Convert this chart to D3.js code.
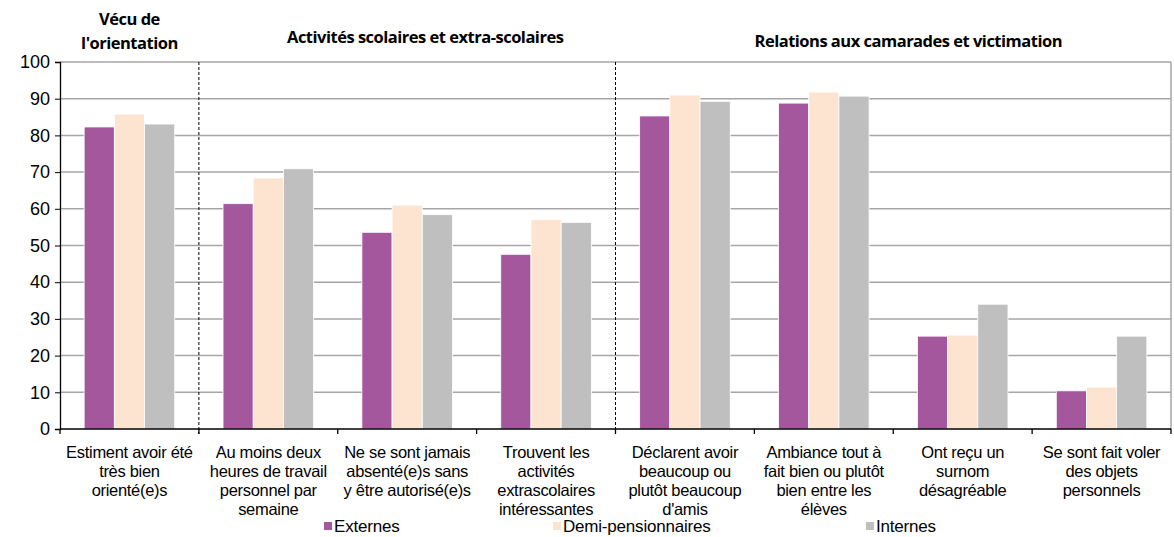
<!DOCTYPE html>
<html>
<head>
<meta charset="utf-8">
<title>Externes, demi-pensionnaires, internes</title>
<style>
  body { margin: 0; background: #fff; }
  svg { display: block; }
</style>
</head>
<body>
<svg width="1174" height="537"></svg>
<script src="https://d3js.org/d3.v7.min.js"></script>
<script>

    var categories = [
        ["Estiment avoir été", "très bien", "orienté(e)s"],
        ["Au moins deux", "heures de travail", "personnel par", "semaine"],
        ["Ne se sont jamais", "absenté(e)s sans", "y être autorisé(e)s"],
        ["Trouvent les", "activités", "extrascolaires", "intéressantes"],
        ["Déclarent avoir", "beaucoup ou", "plutôt beaucoup", "d'amis"],
        ["Ambiance tout à", "fait bien ou plutôt", "bien entre les", "élèves"],
        ["Ont reçu un", "surnom", "désagréable"],
        ["Se sont fait voler", "des objets", "personnels"]
    ];
    var seriesNames = ["Externes", "Demi-pensionnaires", "Internes"];
    var externes = [82.3, 61.4, 53.6, 47.6, 85.3, 88.8, 25.3, 10.4];
    var demiPensionnaires = [85.8, 68.4, 61.0, 57.1, 91.0, 91.8, 25.6, 11.4];
    var internes = [83.1, 70.9, 58.4, 56.3, 89.3, 90.7, 34.0, 25.3];
    var yTicks = [0, 10, 20, 30, 40, 50, 60, 70, 80, 90, 100];
    // themed groups: label lines, first and last category index
    var groups = [
        { lines: ["Vécu de", "l'orientation"], from: 0, to: 0 },
        { lines: ["Activités scolaires et extra-scolaires"], from: 1, to: 3 },
        { lines: ["Relations aux camarades et victimation"], from: 4, to: 7 }
    ];

    var colors = ["#a5579e", "#fde4d0", "#bfbfbf"];
    // header placement tweaks (x shift, baseline above plot)
    var hdrShift = [0, 18, 15];
    var hdrY = [-37, -19, -15];

    var svg = d3.select("svg"),
        margin = { top: 62, right: 3, bottom: 108, left: 60 },
        width = svg.attr("width") - margin.left - margin.right,
        height = svg.attr("height") - margin.top - margin.bottom;

    var values = [externes, demiPensionnaires, internes];
    var data = categories.map(function (c, i) {
        return { idx: i, lines: c, vals: values.map(function (v) { return v[i]; }) };
    });

    var x0 = d3.scaleBand().domain(d3.range(categories.length)).range([0, width]).padding(0);
    var x1 = d3.scaleBand().domain(d3.range(seriesNames.length)).range([0, x0.bandwidth()])
        .paddingInner(0).paddingOuter(0.8);
    var y = d3.scaleLinear().domain([0, 100]).range([height, 0]);

    var g = svg.append("g")
        .attr("transform", "translate(" + margin.left + "," + margin.top + ")");

    // grid
    g.append("g").selectAll("line")
        .data(yTicks.filter(function (t) { return t > 0; }))
        .enter().append("line")
        .attr("x1", 0).attr("x2", width)
        .attr("y1", function (d) { return y(d); })
        .attr("y2", function (d) { return y(d); })
        .style("stroke", "#a6a6a6")
        .style("stroke-width", 1.5);

    g.append("line")
        .attr("x1", width).attr("x2", width)
        .attr("y1", 0).attr("y2", height)
        .style("stroke", "#a6a6a6")
        .style("stroke-width", 1.5);

    // bars
    var cat = g.selectAll(".cat")
        .data(data)
        .enter().append("g")
        .attr("class", "cat")
        .attr("transform", function (d) { return "translate(" + x0(d.idx) + ",0)"; });

    cat.selectAll("rect")
        .data(function (d) { return d.vals; })
        .enter().append("rect")
        .attr("x", function (d, i) { return x1(i); })
        .attr("width", x1.bandwidth())
        .attr("y", function (d) { return y(d); })
        .attr("height", function (d) { return height - y(d); })
        .style("fill", function (d, i) { return colors[i]; })
        .style("stroke", "#fff")
        .style("stroke-width", 0.8);

    // y axis
    var yAxis = g.append("g")
        .call(d3.axisLeft(y).tickValues(yTicks).tickSize(5).tickPadding(5));
    yAxis.select(".domain").style("stroke", "#000").style("stroke-width", 1.3);
    yAxis.selectAll(".tick line").style("stroke", "#000");
    yAxis.selectAll("text")
        .style("font", "18px 'Liberation Sans', Arial, sans-serif")
        .style("fill", "#000");

    // x axis
    var boundaries = d3.range(categories.length + 1).map(function (i) {
        return i < categories.length ? x0(i) : width;
    });
    g.append("line")
        .attr("x1", 0).attr("x2", width)
        .attr("y1", height).attr("y2", height)
        .style("stroke", "#000").style("stroke-width", 1.3);
    g.append("g").selectAll("line")
        .data(boundaries)
        .enter().append("line")
        .attr("x1", function (d) { return d; }).attr("x2", function (d) { return d; })
        .attr("y1", height).attr("y2", height + 5)
        .style("stroke", "#000").style("stroke-width", 1.3);

    // dashed separators between themes
    g.append("g").selectAll("line")
        .data(groups.slice(1))
        .enter().append("line")
        .attr("x1", function (d) { return x0(d.from); })
        .attr("x2", function (d) { return x0(d.from); })
        .attr("y1", 0).attr("y2", height + 5)
        .style("stroke", "#000")
        .style("stroke-width", 1)
        .style("stroke-dasharray", "3,2");

    // category labels
    var lbl = g.selectAll(".lbl")
        .data(data)
        .enter().append("text")
        .attr("class", "lbl")
        .attr("x", function (d) { return x0(d.idx) + x0.bandwidth() / 2; })
        .attr("y", height + 29)
        .style("font", "16.5px 'Liberation Sans', Arial, sans-serif")
        .style("letter-spacing", "-0.3px")
        .style("text-anchor", "middle")
        .style("fill", "#000");
    lbl.selectAll("tspan")
        .data(function (d) { return d.lines.map(function (l) { return { l: l, x: x0(d.idx) + x0.bandwidth() / 2 }; }); })
        .enter().append("tspan")
        .attr("x", function (d) { return d.x; })
        .attr("dy", function (d, i) { return i === 0 ? 0 : 19; })
        .text(function (d) { return d.l; });

    // theme headers
    var hdr = g.selectAll(".hdr")
        .data(groups)
        .enter().append("text")
        .attr("class", "hdr")
        .style("font", "bold 16.5px 'Open Sans', sans-serif")
        .style("letter-spacing", "-0.5px")
        .style("text-anchor", "middle")
        .style("fill", "#000")
        .attr("y", function (d, i) { return hdrY[i]; });
    hdr.selectAll("tspan")
        .data(function (d, gi) {
            var cx = (x0(d.from) + (d.to < categories.length - 1 ? x0(d.to + 1) : width)) / 2 + hdrShift[gi];
            return d.lines.map(function (l) { return { l: l, x: cx }; });
        })
        .enter().append("tspan")
        .attr("x", function (d) { return d.x; })
        .attr("dy", function (d, i) { return i === 0 ? 0 : 24; })
        .text(function (d) { return d.l; });

    // legend
    var legendX = [324, 553, 866];
    var legend = svg.append("g").selectAll("g")
        .data(seriesNames)
        .enter().append("g")
        .attr("transform", function (d, i) { return "translate(" + legendX[i] + ",522)"; });
    legend.append("rect")
        .attr("width", 8).attr("height", 8)
        .style("fill", function (d, i) { return colors[i]; });
    legend.append("text")
        .attr("x", 10).attr("y", 10)
        .style("font", "17px 'Liberation Sans', Arial, sans-serif")
        .style("letter-spacing", "-0.2px")
        .style("fill", "#000")
        .text(function (d) { return d; });

</script>
</body>
</html>
